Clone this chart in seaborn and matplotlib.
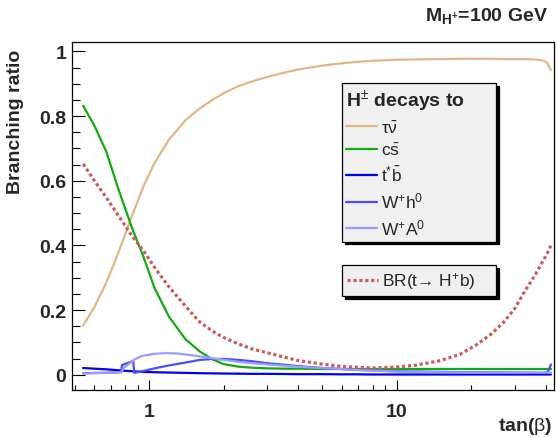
import matplotlib
matplotlib.use("Agg")
import matplotlib.pyplot as plt
import seaborn as sns
from matplotlib.ticker import FixedLocator, MultipleLocator, FuncFormatter, NullFormatter

# tan(beta) grid shared by the smooth curves
tan_beta = [0.54, 0.6, 0.67, 0.75, 0.85, 0.95, 1.05, 1.2, 1.4, 1.6, 1.8, 2.0, 2.3, 2.6,
            3.0, 3.5, 4.0, 5.0, 6.0, 7.0, 8.0, 10.0, 12.0, 15.0, 18.0, 21.0, 24.0, 27.0,
            30.0, 33.0, 36.0, 39.0, 40.5, 42.0]

br_taunu = [0.152, 0.21, 0.285, 0.378, 0.49, 0.585, 0.655, 0.727, 0.787, 0.824, 0.85, 0.871,
            0.893, 0.907, 0.921, 0.934, 0.944, 0.956, 0.963, 0.968, 0.971, 0.974, 0.975, 0.976,
            0.977, 0.977, 0.977, 0.976, 0.976, 0.976, 0.975, 0.972, 0.965, 0.942]

br_cs = [0.832, 0.77, 0.69, 0.574, 0.455, 0.362, 0.268, 0.18, 0.11, 0.072, 0.048, 0.033,
         0.025, 0.022, 0.02, 0.019, 0.019, 0.018, 0.018, 0.018, 0.018, 0.018, 0.018, 0.018,
         0.018, 0.018, 0.018, 0.018, 0.018, 0.018, 0.018, 0.018, 0.018, 0.018]

br_tb = [0.021, 0.019, 0.017, 0.014, 0.011, 0.009, 0.008, 0.007, 0.006, 0.005, 0.0045, 0.004,
         0.0035, 0.003, 0.003, 0.0025, 0.002, 0.002, 0.0015, 0.0015, 0.001, 0.001, 0.001, 0.001,
         0.001, 0.001, 0.001, 0.001, 0.001, 0.001, 0.001, 0.001, 0.001, 0.001]

br_top = [0.652, 0.6, 0.548, 0.492, 0.43, 0.382, 0.332, 0.272, 0.212, 0.163, 0.135, 0.115,
          0.095, 0.08, 0.068, 0.055, 0.044, 0.033, 0.026, 0.023, 0.021, 0.024, 0.03, 0.044,
          0.063, 0.093, 0.125, 0.162, 0.205, 0.26, 0.305, 0.352, 0.375, 0.4]

# W+h0 and W+A0 have their own (non monotonic) scans
wh_tan = [0.54, 0.65, 0.77, 0.775, 0.86, 0.87, 0.95, 1.05, 1.2, 1.4, 1.6, 1.8, 2.0, 2.3, 2.6,
          3.0, 4.0, 5.0, 7.0, 10.0, 15.0, 20.0, 30.0, 40.0, 41.0, 42.0]
br_wh = [0.005, 0.006, 0.008, 0.03, 0.043, 0.006, 0.012, 0.02, 0.029, 0.038, 0.046, 0.049,
         0.049, 0.046, 0.042, 0.036, 0.027, 0.021, 0.015, 0.011, 0.009, 0.008, 0.007, 0.006,
         0.012, 0.032]

wa_tan = [0.54, 0.65, 0.77, 0.79, 0.87, 0.93, 1.05, 1.16, 1.3, 1.5, 1.73, 2.0, 2.3, 2.6, 3.0,
          4.0, 5.0, 7.0, 10.0, 15.0, 20.0, 30.0, 42.0]
br_wa = [0.004, 0.006, 0.008, 0.022, 0.047, 0.058, 0.065, 0.067, 0.066, 0.06, 0.053, 0.046,
         0.04, 0.036, 0.032, 0.025, 0.021, 0.015, 0.01, 0.008, 0.007, 0.007, 0.007]

decay_labels = [r"$\mathrm{\tau}\bar{\mathrm{\nu}}$", r"c$\bar{\mathrm{s}}$",
                r"t$^{*}\bar{\mathrm{b}}$", r"W$^{+}$h$^{0}$", r"W$^{+}$A$^{0}$"]
top_label = "BR(t\u2192 H$^{+}$b)"

sns.set_style("ticks")
plt.rcParams['font.family'] = ['Liberation Sans', 'DejaVu Sans']
plt.rcParams['mathtext.fontset'] = 'custom'
plt.rcParams['mathtext.rm'] = 'Liberation Sans'
plt.rcParams['mathtext.it'] = 'Liberation Sans:italic'
plt.rcParams['mathtext.bf'] = 'Liberation Sans:bold'

fig = plt.figure(figsize=(5.57, 4.39), dpi=100)
ax = fig.add_axes([0.1293, 0.1093, 0.8653, 0.7928])

colors = ["#deb887", "#11aa11", "#0000ee", "#4b4bff", "#9c9cff"]
lw = 1.6

sns.lineplot(x=tan_beta, y=br_taunu, ax=ax, color=colors[0], lw=lw, sort=False, estimator=None)
sns.lineplot(x=tan_beta, y=br_cs, ax=ax, color=colors[1], lw=lw, sort=False, estimator=None)
sns.lineplot(x=tan_beta, y=br_tb, ax=ax, color=colors[2], lw=lw, sort=False, estimator=None)
sns.lineplot(x=wh_tan, y=br_wh, ax=ax, color=colors[3], lw=lw, sort=False, estimator=None)
sns.lineplot(x=wa_tan, y=br_wa, ax=ax, color=colors[4], lw=lw, sort=False, estimator=None)
sns.lineplot(x=tan_beta, y=br_top, ax=ax, color="#cd5c5c", lw=2.3, sort=False, estimator=None)
lines = ax.get_lines()
lines[5].set_dashes([1.0, 0.85])

ax.set_xscale('log')
ax.set_xlim(0.487, 43.2)
ax.set_ylim(-0.047, 1.029)

ax.xaxis.set_major_locator(FixedLocator([1, 10]))
ax.xaxis.set_minor_locator(FixedLocator([0.5, 0.6, 0.7, 0.8, 0.9, 2, 3, 4, 5, 6, 7, 8, 9,
                                         20, 30, 40]))
ax.xaxis.set_major_formatter(FuncFormatter(lambda v, p: f"{v:g}"))
ax.xaxis.set_minor_formatter(NullFormatter())
ax.yaxis.set_major_locator(MultipleLocator(0.2))
ax.yaxis.set_minor_locator(MultipleLocator(0.05))
ax.yaxis.set_major_formatter(FuncFormatter(lambda v, p: f"{v:g}"))

ax.tick_params(axis='both', which='both', direction='in', color='black', width=0.8,
               top=False, right=False)
ax.tick_params(axis='x', which='major', length=7.2, pad=9, labelsize=14)
ax.tick_params(axis='x', which='minor', length=3.8)
ax.tick_params(axis='y', which='major', length=9.4, pad=4, labelsize=14)
ax.tick_params(axis='y', which='minor', length=5.5)
for lab in ax.get_xticklabels() + ax.get_yticklabels():
    lab.set_fontweight('bold')
for sp in ax.spines.values():
    sp.set_visible(True)
    sp.set_color('black')
    sp.set_linewidth(0.9)

ax.set_ylabel("Branching ratio", fontsize=14, fontweight='bold', loc='top')
ax.yaxis.set_label_coords(-0.100, 0.98)
ax.set_xlabel(r"tan($\mathrm{\beta}$)", fontsize=14, fontweight='bold', loc='right')
ax.xaxis.set_label_coords(0.996, -0.073)

fig.text(548 / 557, 1 - 16 / 439, r"$\mathbf{M_{H^{+}}}$=100 GeV", fontsize=14,
         fontweight='bold', ha='right', va='center')

shadow = {'color': 'black', 'alpha': 1}
leg1 = ax.legend(lines[:5], decay_labels, title=r"H$^{\pm}$ decays to",
                 loc='upper left', bbox_to_anchor=(0.56, 0.417, 0.32, 0.465), mode='expand',
                 fontsize=12.5, title_fontproperties={'size': 14, 'weight': 'bold'},
                 alignment='left', frameon=True, fancybox=False, shadow=shadow,
                 facecolor='#f0f0f0', edgecolor='black', framealpha=1,
                 handlelength=1.75, handletextpad=0.25, borderpad=0.25, labelspacing=0.38,
                 borderaxespad=0)
leg1.get_frame().set_linewidth(0.9)
ax.add_artist(leg1)

leg2 = ax.legend([lines[5]], [top_label], loc='upper left',
                 bbox_to_anchor=(0.56, 0.259, 0.32, 0.1), mode='expand', fontsize=12.5,
                 frameon=True, fancybox=False, shadow=shadow, facecolor='#f0f0f0',
                 edgecolor='black', framealpha=1, handlelength=1.75, handletextpad=0.25,
                 borderpad=0.3, borderaxespad=0)
leg2.get_frame().set_linewidth(0.9)

fig.savefig("out.png", dpi=100)
